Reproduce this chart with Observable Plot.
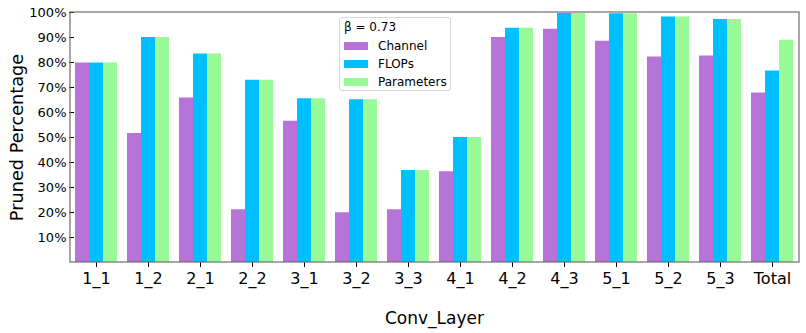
<!DOCTYPE html>
<html>
<head>
<meta charset="utf-8">
<script src="https://cdn.jsdelivr.net/npm/d3@7"></script>
<script src="https://cdn.jsdelivr.net/npm/@observablehq/plot@0.6"></script>
<style>
  html, body { margin: 0; padding: 0; background: #fff; }
  #wrap { position: relative; width: 806px; height: 333px; }
  #legend {
    position: absolute; left: 339px; top: 17px; width: 112px; height: 74px;
    border: 1px solid #d6d6d6; border-radius: 3px; background: rgba(255,255,255,0.85);
    font-family: "DejaVu Sans", sans-serif; font-size: 12px; color: #000; box-sizing: border-box;
  }
  #legend .title { position: absolute; left: 4px; top: 2px; }
  #legend .item { position: absolute; left: 4px; height: 14px; display: flex; align-items: center; }
  #legend .sw { width: 24px; height: 8px; margin-right: 10px; }
</style>
</head>
<body>
<div id="wrap"><div id="legend"></div></div>
<script>
const categories = ["1_1","1_2","2_1","2_2","3_1","3_2","3_3","4_1","4_2","4_3","5_1","5_2","5_3","Total"];
const series = ["Channel", "FLOPs", "Parameters"];
const channel    = [79.8, 51.6, 65.8, 21.1, 56.5, 19.9, 21.1, 36.3, 90.0, 93.3, 88.5, 82.2, 82.6, 67.8];
const flops      = [79.8, 90.0, 83.4, 72.9, 65.5, 65.1, 36.8, 50.0, 93.7, 99.6, 99.5, 98.2, 97.2, 76.6];
const parameters = [79.8, 90.0, 83.4, 72.9, 65.5, 65.1, 36.8, 50.0, 93.7, 99.6, 99.5, 98.2, 97.2, 88.9];
const colors = ["#b873d8", "#00bfff", "#98fb98"];
const yTicks = [10, 20, 30, 40, 50, 60, 70, 80, 90, 100];
const legendTitle = "β = 0.73";
const xLabel = "Conv_Layer";
const yLabel = "Pruned Percentage";

const values = [channel, flops, parameters];
const data = [];
categories.forEach((c, i) => series.forEach((s, j) => data.push({layer: c, series: s, value: values[j][i]})));

const W = 806, H = 333, mL = 70, mR = 7, mT = 12, mB = 71;

const chart = Plot.plot({
  width: W, height: H,
  marginLeft: mL, marginRight: mR, marginTop: mT, marginBottom: mB,
  style: {fontFamily: "DejaVu Sans, sans-serif", fontSize: "13px", color: "#000", background: "#fff", overflow: "visible"},
  fx: {domain: categories, paddingInner: 0.145, paddingOuter: 0, label: xLabel, labelAnchor: "center", labelOffset: 61, tickSize: 5, tickPadding: 5},
  x: {domain: series, axis: null, paddingInner: 0, paddingOuter: 0},
  y: {domain: [0, 100], ticks: yTicks, tickFormat: d => d + "%", label: yLabel, labelArrow: "none", labelAnchor: "center", labelOffset: 64, tickSize: 5, tickPadding: 3},
  color: {domain: series, range: colors},
  marks: [
    Plot.barY(data, {fx: "layer", x: "series", y: "value", fill: "series", insetLeft: 0, insetRight: 0})
  ]
});

const svg = d3.select(chart);
svg.selectAll("text").each(function() {
  const el = d3.select(this);
  const t = this.textContent;
  if (categories.includes(t)) el.style("font-size", "16px");
  if (t.startsWith(xLabel)) el.text(xLabel).style("font-size", "17px");
  if (t.startsWith(yLabel) || t.endsWith(yLabel)) el.text(yLabel).style("font-size", "17.7px");
});
svg.append("rect")
  .attr("x", mL).attr("y", mT)
  .attr("width", W - mL - mR).attr("height", H - mT - mB)
  .attr("fill", "none").attr("stroke", "#6e6e6e").attr("stroke-width", 1.2);

document.getElementById("wrap").prepend(chart);

const leg = document.getElementById("legend");
const title = document.createElement("div");
title.className = "title"; title.textContent = legendTitle; leg.appendChild(title);
series.forEach((s, j) => {
  const it = document.createElement("div");
  it.className = "item"; it.style.top = (21 + j * 18) + "px";
  const sw = document.createElement("div"); sw.className = "sw"; sw.style.background = colors[j];
  const lb = document.createElement("span"); lb.textContent = s;
  it.appendChild(sw); it.appendChild(lb); leg.appendChild(it);
});
chart.style.position = "absolute"; chart.style.left = "0"; chart.style.top = "0";
</script>
</body>
</html>
